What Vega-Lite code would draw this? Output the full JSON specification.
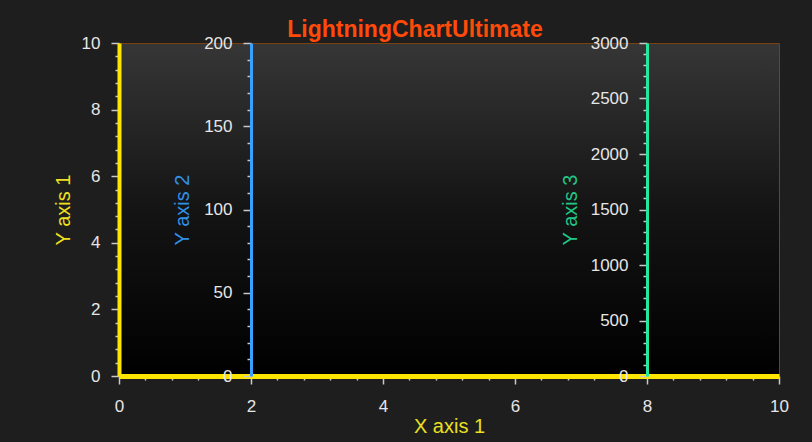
{
  "$schema": "https://vega.github.io/schema/vega-lite/v6.json",
  "autosize": {"type": "none"},
  "width": 660,
  "height": 333,
  "padding": {"left": 119, "top": 43, "right": 33, "bottom": 66},
  "background": "#1e1e1e",
  "title": {
    "text": "LightningChartUltimate",
    "anchor": "middle",
    "dx": -34,
    "dy": 9,
    "offset": 1,
    "font": "Liberation Sans",
    "fontSize": 23,
    "fontWeight": "bold",
    "color": "#ff4a0a"
  },
  "config": {
    "view": {
      "stroke": "#7a4010",
      "strokeWidth": 1,
      "fill": {
        "gradient": "linear",
        "x1": 0, "y1": 0, "x2": 0, "y2": 1,
        "stops": [
          {"offset": 0, "color": "#363636"},
          {"offset": 0.5, "color": "#141414"},
          {"offset": 1, "color": "#000000"}
        ]
      }
    },
    "axis": {
      "grid": false,
      "format": "d",
      "labelFont": "Liberation Sans",
      "labelFontSize": 17,
      "labelColor": "#e6e6e6",
      "titleFont": "Liberation Sans",
      "titleFontSize": 20,
      "titleFontWeight": "normal",
      "tickColor": "#c8c8c8",
      "tickWidth": 1.5,
      "labelOverlap": false,
      "labelFlush": false
    }
  },
  "data": {"values": [
    {"x": 0, "a": 0, "b": 0, "c": 0},
    {"x": 10, "a": 10, "b": 200, "c": 3000}
  ]},
  "encoding": {
    "x": {
      "field": "x", "type": "quantitative",
      "scale": {"domain": [0, 10], "nice": false, "zero": false},
      "axis": {
        "title": "X axis 1",
        "titleColor": "#e8e020",
        "titlePadding": 2,
        "domainColor": "#ffe600",
        "domainWidth": 5,
        "values": [0,0.4,0.8,1.2,1.6,2,2.4,2.8,3.2,3.6,4,4.4,4.8,5.2,5.6,6,6.4,6.8,7.2,7.6,8,8.4,8.8,9.2,9.6,10],
        "labelExpr": "abs(datum.value - round(datum.value/2)*2) < 0.001 ? format(datum.value, 'd') : ''",
        "tickSize": {"condition": {"test": "abs(datum.value - round(datum.value/2)*2) < 0.001", "value": 8}, "value": 4},
        "labelPadding": 14
      }
    }
  },
  "layer": [
    {
      "mark": {"type": "point", "opacity": 0},
      "encoding": {
        "y": {
          "field": "a", "type": "quantitative",
          "scale": {"domain": [0, 10], "nice": false, "zero": false},
          "axis": {
            "orient": "left",
            "title": "Y axis 1",
            "titleColor": "#f0e020",
            "titlePadding": 8,
            "domainColor": "#ffe600",
            "domainWidth": 4,
            "values": [0,0.4,0.8,1.2,1.6,2,2.4,2.8,3.2,3.6,4,4.4,4.8,5.2,5.6,6,6.4,6.8,7.2,7.6,8,8.4,8.8,9.2,9.6,10],
            "labelExpr": "abs(datum.value - round(datum.value/2)*2) < 0.001 ? format(datum.value, 'd') : ''",
            "tickSize": {"condition": {"test": "abs(datum.value - round(datum.value/2)*2) < 0.001", "value": 8}, "value": 4},
            "labelPadding": 11
          }
        }
      }
    },
    {
      "mark": {"type": "point", "opacity": 0},
      "encoding": {
        "y": {
          "field": "b", "type": "quantitative",
          "scale": {"domain": [0, 200], "nice": false, "zero": false},
          "axis": {
            "orient": "left",
            "offset": -132,
            "title": "Y axis 2",
            "titleColor": "#3090e8",
            "titlePadding": 11,
            "domainColor": "#3aa0ff",
            "domainWidth": 3,
            "values": [0,10,20,30,40,50,60,70,80,90,100,110,120,130,140,150,160,170,180,190,200],
            "labelExpr": "datum.value % 50 === 0 ? format(datum.value, 'd') : ''",
            "tickSize": {"condition": {"test": "datum.value % 50 === 0", "value": 8}, "value": 4},
            "labelPadding": 11
          }
        }
      }
    },
    {
      "mark": {"type": "point", "opacity": 0},
      "encoding": {
        "y": {
          "field": "c", "type": "quantitative",
          "scale": {"domain": [0, 3000], "nice": false, "zero": false},
          "axis": {
            "orient": "left",
            "offset": -528,
            "title": "Y axis 3",
            "titleColor": "#20c888",
            "titlePadding": 10,
            "domainColor": "#22e8a0",
            "domainWidth": 3,
            "values": [0,100,200,300,400,500,600,700,800,900,1000,1100,1200,1300,1400,1500,1600,1700,1800,1900,2000,2100,2200,2300,2400,2500,2600,2700,2800,2900,3000],
            "labelExpr": "datum.value % 500 === 0 ? format(datum.value, 'd') : ''",
            "tickSize": {"condition": {"test": "datum.value % 500 === 0", "value": 8}, "value": 4},
            "labelPadding": 11
          }
        }
      }
    }
  ],
  "resolve": {"scale": {"y": "independent"}, "axis": {"y": "independent"}}
}
